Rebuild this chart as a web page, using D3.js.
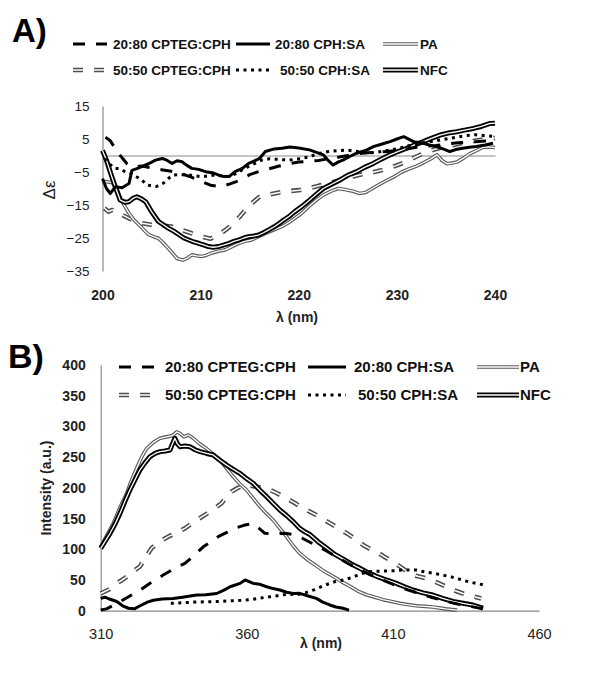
<!DOCTYPE html>
<html><head><meta charset="utf-8">
<script src="https://cdn.jsdelivr.net/npm/d3@7"></script>
<style>body{margin:0;background:#fff}svg{display:block;font-family:"Liberation Sans",Arial,sans-serif}</style>
</head><body><svg id="c" width="602" height="681"></svg>
<script>
// ---------- categories / legend ----------
const seriesNames = ["20:80 CPTEG:CPH","50:50 CPTEG:CPH","20:80 CPH:SA","50:50 CPH:SA","PA","NFC"];
const seriesKinds = ["dash","gdash","solid","dot","pa","nfc"];

// ---------- Panel A (CD), [lambda nm, delta epsilon] ----------
const cdA_cpteg2080 = [[200.3,5.5],[200.8,4.5],[201.3,2],[201.8,0],[202.5,-2.5],[203.2,-3.5],[204,-3.2],[205,-3.8],[206,-4.3],[207,-4.8],[208,-5.5],[209,-6.5],[210,-7.8],[211,-9],[212,-9.5],[213,-8.6],[214,-7.5],[215,-5.8],[216,-4.8],[217,-4],[218,-3.2],[219,-2.5],[220,-2],[221,-1.8],[222,-1.5],[223,-1],[224,-0.5],[225,0],[226,0.5],[227,0.8],[228,1],[229,1.2],[230,1.5],[231,2],[232,2.5],[233,2.8],[234,3],[235,3.5],[236,3.8],[237,4],[238,4.2],[239,4.4],[240,4.5]];
const cdA_cpteg5050 = [[200.2,-16],[200.6,-17],[201,-16.5],[202,-18],[203,-19.5],[204,-20.5],[205,-21],[206,-21.2],[207,-21.5],[208,-22.5],[209,-23.5],[210,-24.5],[211,-25.2],[212,-23.8],[213,-21.5],[214,-18.5],[215,-15],[216,-12.5],[217,-11.8],[218,-11.2],[219,-10.8],[220,-10.5],[221,-10],[222,-9.2],[223,-8.5],[224,-7.6],[225,-6.8],[226,-6],[227,-5.4],[228,-4.8],[229,-4],[230,-3],[231,-1.8],[232,-0.3],[233,1],[234,2],[235,2.7],[236,3.3],[237,4],[238,4.5],[239,5],[240,5.3]];
const cdA_cphsa2080 = [[200,-7],[200.4,-10],[200.8,-11.5],[201.3,-9.5],[202,-9.8],[202.7,-8.5],[203,-4.5],[203.5,-4],[204,-3.4],[204.7,-2.5],[205.4,-1.4],[206.1,-0.9],[206.6,-1.5],[207.1,-2.4],[207.6,-1.6],[208.1,-1.9],[208.6,-3],[209.1,-3.9],[209.8,-4.2],[210.5,-4.9],[211.2,-5.2],[211.8,-5.9],[212.4,-6.4],[212.9,-6.4],[213.5,-4.9],[214.2,-4],[214.9,-2.4],[215.5,-1.6],[216,-0.9],[216.6,1.2],[217.5,2],[218.3,2.2],[219.1,2.6],[220,2.3],[221.1,1.7],[222.5,0.2],[223,-1.5],[223.5,-2.9],[224,-2],[224.5,-1.4],[225.2,-0.3],[225.9,0.7],[226.8,1.5],[227.6,2.7],[228.5,3.5],[229.3,4.2],[230,5],[230.7,5.7],[231.7,4.2],[232.7,3.7],[233.3,3.2],[234,2.7],[234.7,2],[235.4,1.2],[236,1.8],[236.7,2.2],[237.4,2.5],[238.1,2.7],[239,3.2],[239.8,3.7]];
const cdA_cphsa5050 = [[200.2,-1],[200.7,-2.5],[201.2,-3.9],[201.8,-4],[202.3,-4.9],[203,-5.5],[203.5,-6.5],[204,-7.4],[204.5,-8.9],[205,-9.2],[205.5,-9.4],[206.2,-8.4],[206.7,-7],[207.2,-5.9],[208,-5.8],[208.8,-5.9],[209.5,-6.2],[210.1,-6.4],[210.8,-6.2],[211.5,-5.9],[212.2,-6.2],[212.9,-6.4],[213.6,-5.5],[214.2,-4.4],[214.7,-3.6],[215.2,-2.9],[216.2,-1.4],[217,-1],[218,-1.2],[219,-1.4],[220,-1],[221,-0.5],[222,0.6],[223,1.2],[224,1.5],[225,1.6],[226,1.2],[227,0.8],[228,1],[229,1.5],[230,2],[231,2.8],[232,3.5],[233,4],[234,4.5],[235,5],[236,5.5],[237,6],[238,6.3],[239,6],[240,5.8]];
const cdA_pa = [[200,-7.9],[200.6,-8],[201.2,-8.4],[201.6,-11],[201.9,-13.5],[202.3,-15.5],[202.7,-17.5],[203.2,-19.5],[203.7,-21],[204.2,-22.5],[204.7,-24],[205.2,-24.6],[205.7,-25.1],[206.2,-26.5],[206.7,-28.1],[207.2,-29.8],[207.6,-31.2],[208.2,-31.7],[208.7,-31],[209.1,-30.1],[209.6,-30.4],[210.1,-30.6],[210.6,-30.2],[211.1,-29.6],[211.8,-29],[212.5,-28.6],[213.2,-27.6],[213.9,-26.6],[214.5,-26],[215.2,-25.6],[215.9,-24.6],[216.6,-23.6],[217.5,-22.5],[218.3,-21.5],[219,-20.3],[219.6,-19],[220.3,-17.5],[221,-15.5],[221.8,-13.5],[222.5,-12],[223.3,-10.8],[224,-10],[224.7,-10.3],[225.5,-10.8],[226.2,-11.5],[226.8,-11.2],[227.5,-10],[228.2,-8.8],[229,-7.5],[229.8,-6.3],[230.5,-5],[231.3,-4],[232,-3.2],[232.7,-2.2],[233.4,-1.1],[234.1,0.2],[234.6,-1.5],[235.1,-2.5],[235.6,-2.3],[236.1,-2],[236.8,-0.8],[237.4,0.5],[238.1,1.5],[238.8,2.5],[239.4,2.6],[240,2.4]];
const cdA_nfc = [[200,1.5],[200.4,-1.4],[200.9,-6],[201.3,-9.5],[201.8,-13.5],[202.3,-14.2],[202.7,-14],[203.1,-13],[203.5,-12.5],[204,-13.2],[204.4,-14],[205,-17],[205.7,-20],[206.2,-21],[206.7,-22],[207.3,-23],[207.8,-24],[208.3,-25],[208.8,-25.6],[209.3,-26.2],[209.8,-26.6],[210.3,-27.1],[210.8,-27.6],[211.3,-27.8],[211.8,-27.6],[212.4,-27.1],[212.9,-26.6],[213.4,-26],[213.9,-25.6],[214.4,-25],[214.9,-24.6],[215.4,-24.4],[215.9,-24.1],[216.4,-23.4],[216.9,-22.6],[217.5,-21.6],[218,-20.6],[218.5,-19.5],[219,-18.5],[219.6,-17],[220.3,-15.5],[221,-13.8],[221.7,-12],[222.5,-10],[223.3,-8.8],[224.2,-7.4],[225,-6],[225.9,-4.9],[226.7,-3.6],[227.6,-2.4],[228.4,-1.1],[229.3,0.2],[230.1,1.2],[231,2.2],[231.8,3.2],[232.7,4.2],[233.5,5.2],[234.4,6.2],[235.2,6.8],[236.1,7.2],[236.9,7.7],[237.8,8.2],[238.6,8.8],[239.5,9.7],[240,9.8]];
const cdA_xTicks = [200,210,220,230,240];
const cdA_yTicks = [-35,-25,-15,-5,5,15];

// ---------- Panel B (fluorescence), [lambda nm, intensity] ----------
const flB_cpteg2080 = [[310,1],[312,3],[314,8],[316.6,14.7],[320,24],[323.5,33.7],[327,45],[331.4,58],[335,68],[338.8,77],[342,90],[345.1,104],[348,113],[350.2,120.5],[353,127],[355.9,134],[359,139],[362.2,142],[364,135],[366.2,126],[369,125],[373,126],[376,124],[379,118],[383,108],[387,98],[391,87],[395,76],[399,66],[403,57],[407,49],[411,41],[415,34],[419,28],[423,22],[427,17],[431,12],[435,8],[439,5],[441,4]];
const flB_cpteg5050 = [[310,28],[313,35],[315.5,44.6],[318,52],[320.5,62],[323.4,71.7],[325.5,88],[327.4,101.6],[330,112],[333.1,120.5],[336,127],[338.8,134],[342,145],[345.7,156],[348.5,165],[351.4,175],[353,185],[354.8,194],[357,200],[359.9,204.7],[363,202],[366.8,199],[370,192],[373.6,183],[376.5,175],[379.3,166.7],[383.8,155.8],[386.5,148],[389.5,139.5],[392.5,131],[395.2,123],[397.5,115],[399.8,107],[402,101],[404.4,96],[407,88],[410,79.8],[413,70],[415.7,60.8],[418.5,56],[421.4,52.7],[425,46],[428.3,39],[431,33],[434,28],[437,24],[440.2,20]];
const flB_cphsa2080 = [[310,20],[311.5,22],[313,19],[315.5,15],[317.5,8],[319.5,4],[321.5,3],[323.5,8],[326,14],[328,17],[331,19],[334.8,20],[338,22],[342.8,25.5],[346,26],[349.7,28],[352,33],[354.3,39],[357.7,44.5],[359.4,50],[362.2,44.5],[364.5,43],[366.8,39],[369,36],[371.3,33.7],[373.6,30],[375.9,28.2],[378.1,28.3],[381,24],[383.8,20],[386,14],[388.4,9.3],[390.5,6],[392.9,3.9],[395,1]];
const flB_cphsa5050 = [[334,12],[338,13],[342,14],[346,14.5],[350,15],[354,16],[358,17],[362,18.5],[366,21.5],[370,24],[374,27],[377,26],[380,29],[383,34],[387,42],[390,47],[393,50],[396,54],[399,60],[402,63.5],[406,64.5],[410,65],[414,66.5],[418,66.2],[421,63],[424,60.8],[427,58],[430,55],[433,51],[436,47],[439,44],[441,42]];
const flB_pa = [[310,104],[312,122],[314.3,142],[316.5,167],[318.9,191],[320.5,212],[322.3,232],[324,250],[325.7,264],[328,274],[330.3,280.7],[332.5,283],[334.5,285],[336,291],[337.1,288.8],[338.5,283],[340,286],[341.7,280.7],[343.5,273],[346.2,264],[348.5,255],[350.8,245.4],[353,232],[355.4,218],[357.5,207],[359.9,196.5],[362,184],[364.5,169.4],[366.8,158],[369,147.7],[371.3,134],[373.6,120.5],[376,105],[378.1,93.4],[381,82],[383.8,73],[386.5,64],[389.5,56],[392.5,47],[395.2,40],[398,32],[400.9,26],[403.8,22],[406.6,18],[409.5,15],[412.3,12],[415,10],[418,8],[421,7],[423.7,6],[428,3],[432,1]];
const flB_nfc = [[310,101.5],[311.5,113],[313.2,126],[315,142],[316.6,158.5],[318.3,178],[320,196.5],[321.7,213],[323.4,229],[325.2,241],[326.9,251],[328.6,256],[330.3,259],[332,260],[333.7,261.7],[334.6,272],[335.4,280.7],[336.2,272],[337.1,267],[338.8,268],[340.5,267],[342.3,262],[344,259],[346.3,256],[348.5,253.5],[350.8,245],[353.1,237],[355.4,230],[357.6,223.7],[359.9,215],[362.2,207.4],[364.5,196],[366.8,185.7],[369,175],[371.3,164],[373.6,155],[375.9,145],[378.1,134],[380,128],[381.6,124],[384.5,112],[387.3,102],[390,92],[393,84],[395.8,76],[398.7,69],[401.5,62],[404.4,56],[407.8,50],[411.2,44.5],[414,39],[416.9,33.7],[420.3,29],[423.7,25.5],[427,20],[430.6,15],[434,12],[437.4,9.2],[440.8,4]];
const flB_xTicks = [310,360,410,460];
const flB_yTicks = [0,50,100,150,200,250,300,350,400];

const cdA_series = [cdA_cpteg2080, cdA_cpteg5050, cdA_cphsa2080, cdA_cphsa5050, cdA_pa, cdA_nfc];
const flB_series = [flB_cpteg2080, flB_cpteg5050, flB_cphsa2080, flB_cphsa5050, flB_pa, flB_nfc];

// ---------- drawing helpers ----------
const svg = d3.select("#c");
const drawOrder = [1,4,5,3,0,2];

function strokeLayers(kind){
  switch(kind){
    case "dash":  return [{c:"#000",w:3,d:"12,11"}];
    case "gdash": return [{c:"#4d4d4d",w:4.6,d:"10,11"},{c:"#fff",w:1.5,d:"10,11"}];
    case "solid": return [{c:"#000",w:3,d:null}];
    case "dot":   return [{c:"#000",w:3,d:"3,4.5"}];
    case "pa":    return [{c:"#5a5a5a",w:3.6,d:null},{c:"#fff",w:1.3,d:null}];
    case "nfc":   return [{c:"#000",w:5,d:null},{c:"#fff",w:1.3,d:null}];
  }
}
function drawLine(g, data, kind, x, y){
  const line = d3.line().x(d=>x(d[0])).y(d=>y(d[1]));
  strokeLayers(kind).forEach(s=>{
    g.append("path").datum(data).attr("d", line)
      .attr("fill","none").attr("stroke", s.c).attr("stroke-width", s.w)
      .attr("stroke-linejoin","round")
      .attr("stroke-dasharray", s.d);
  });
}
function drawLegend(g, cols, rows, fs, dotShift){
  const layout = [[0,0],[1,0],[0,1],[1,1],[0,2],[1,2]]; // [row, col]
  seriesNames.forEach((name,i)=>{
    const [r,c] = layout[i];
    const col = cols[c], yy = rows[r];
    const sx = d3.scaleLinear().domain([0,1]).range([col[0], col[1]]);
    drawLine(g, [[0,0],[1,0]], seriesKinds[i], sx, ()=>yy);
    g.append("text").attr("x", (i===3? col[2]+dotShift : col[2])).attr("y", yy+fs*0.36)
      .attr("font-size", fs).attr("font-weight","bold").attr("fill","#111").text(name);
  });
}

// ---------- Panel A ----------
const xA = d3.scaleLinear().domain([200,240]).range([102.5,495]);
const yA = d3.scaleLinear().domain([-35,15]).range([271,106]);
const gA = svg.append("g");

gA.append("text").attr("x",12).attr("y",42).attr("font-size",33).attr("font-weight","bold").text("A)");

const axYA = gA.append("g").attr("transform",`translate(${xA(200)},0)`)
  .call(d3.axisLeft(yA).tickValues(cdA_yTicks).tickSize(0).tickPadding(13));
axYA.select(".domain").attr("stroke","#8a8a8a").attr("stroke-width",1.2);
axYA.selectAll("text").attr("font-size",13.5).attr("fill","#222").attr("font-family",null);
const axZA = gA.append("g").attr("transform",`translate(0,${yA(0)})`)
  .call(d3.axisBottom(xA).tickValues([]).tickSize(0).tickSizeOuter(0));
axZA.select(".domain").attr("stroke","#8a8a8a").attr("stroke-width",1.2);
const axXA = gA.append("g").attr("transform",`translate(0,${yA(-35)})`)
  .call(d3.axisBottom(xA).tickValues(cdA_xTicks).tickSize(0).tickPadding(19));
axXA.select(".domain").remove();
axXA.selectAll("text").attr("font-size",14).attr("font-weight","bold").attr("fill","#222").attr("font-family",null);

gA.append("text").attr("transform","translate(55,190) rotate(-90)").attr("text-anchor","middle")
  .attr("font-size",17).attr("fill","#222").text("Δε");
gA.append("text").attr("x",297).attr("y",322).attr("text-anchor","middle")
  .attr("font-size",14).attr("font-weight","bold").attr("fill","#222").text("λ (nm)");

const plotA = gA.append("g");
drawOrder.forEach(i=> drawLine(plotA, cdA_series[i], seriesKinds[i], xA, yA));
drawLegend(gA, [[73,107,113],[236,270,275],[383,418,420]], [44,70], 13.5, 5);

// ---------- Panel B ----------
const xB = d3.scaleLinear().domain([310,460]).range([100.7,539]);
const yB = d3.scaleLinear().domain([0,400]).range([610.7,365]);
const gB = svg.append("g");

gB.append("text").attr("x",8).attr("y",368).attr("font-size",34).attr("font-weight","bold").text("B)");

const axYB = gB.append("g").attr("transform",`translate(${xB(310)},0)`)
  .call(d3.axisLeft(yB).tickValues(flB_yTicks).tickSize(0).tickPadding(15));
axYB.select(".domain").attr("stroke","#8a8a8a").attr("stroke-width",1.2);
axYB.selectAll("text").attr("font-size",14).attr("font-weight","bold").attr("fill","#222").attr("font-family",null);

const axXB = gB.append("g").attr("transform",`translate(0,${yB(0)})`)
  .call(d3.axisBottom(xB).tickValues(flB_xTicks).tickSize(0).tickPadding(18));
axXB.select(".domain").attr("stroke","#8a8a8a").attr("stroke-width",1.2);
axXB.selectAll("text").attr("font-size",14.5).attr("fill","#222").attr("font-family",null);

gB.append("text").attr("transform","translate(51,488) rotate(-90)").attr("text-anchor","middle")
  .attr("font-size",14).attr("font-weight","bold").attr("fill","#222").text("Intensity (a.u.)");
gB.append("text").attr("x",321).attr("y",648).attr("text-anchor","middle")
  .attr("font-size",14).attr("font-weight","bold").attr("fill","#222").text("λ (nm)");

const plotB = gB.append("g");
drawOrder.forEach(i=> drawLine(plotB, flB_series[i], seriesKinds[i], xB, yB));
drawLegend(gB, [[119,158,165],[308,346,354],[477,519,520]], [367,395], 15, 4);
</script></body></html>
